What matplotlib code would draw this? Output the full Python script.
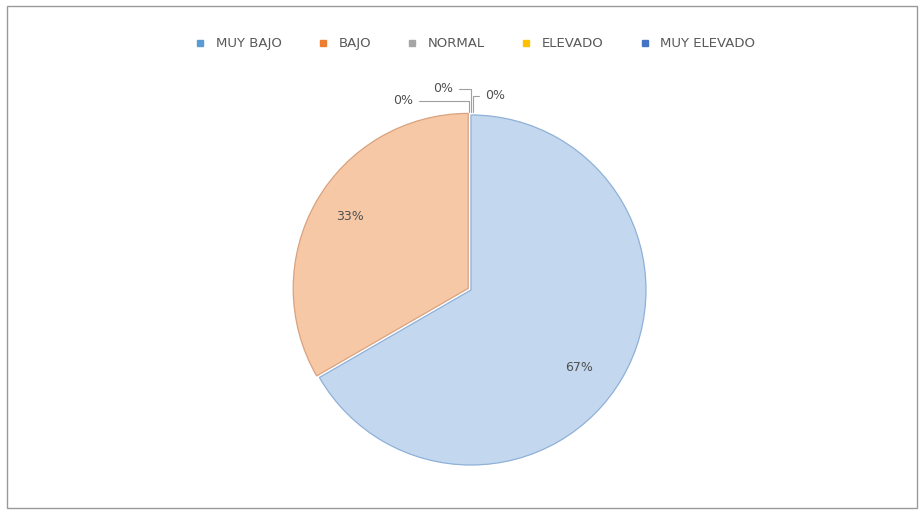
import numpy as np
import matplotlib.pyplot as plt
from matplotlib.patches import Rectangle
from matplotlib.lines import Line2D

# datos
categorias = ['MUY BAJO', 'BAJO', 'NORMAL', 'ELEVADO', 'MUY ELEVADO']
valores = [2, 1, 0, 0, 0]
etiquetas = ['67%', '33%', '0%', '0%', '0%']
colores_leyenda = ['#5b9bd5', '#ed7d31', '#a5a5a5', '#ffc000', '#4472c4']
colores_pie = ['#c3d8ef', '#f7c8a6']
bordes_pie = ['#8fb0d8', '#d9a27e']

fig = plt.figure(figsize=(9.24, 5.14), dpi=100)
fig.patch.set_facecolor('white')
fig.patches.append(Rectangle((0.008, 0.012), 0.984, 0.976, transform=fig.transFigure,
                             fill=False, edgecolor='#9a9a9a', linewidth=1))

ax = fig.add_axes([0.3203, 0.0953, 0.3788, 0.681])
w, _ = ax.pie(valores[:2], colors=colores_pie, startangle=90, counterclock=False,
              explode=[0, 0.018], radius=1, wedgeprops=dict(linewidth=0.9))
for wedge, b in zip(w, bordes_pie):
    wedge.set_edgecolor(b)
ax.set_xlim(-1, 1)
ax.set_ylim(-1, 1)
ax.set_aspect('equal')
ax.axis('off')

# etiquetas de porcentaje
ax.text(0.62, -0.44, etiquetas[0], fontsize=9, color='#505050', ha='center', va='center')
ax.text(-0.69, 0.42, etiquetas[1], fontsize=9, color='#505050', ha='center', va='center')

# etiquetas 0% con lineas guia
ax.annotate(etiquetas[2], xy=(-0.01, 1.0), xytext=(-0.33, 1.08), fontsize=9, color='#505050',
            ha='right', va='center',
            arrowprops=dict(arrowstyle='-', color='#a0a0a0', lw=0.8,
                            connectionstyle='angle,angleA=0,angleB=90,rad=0'))
ax.annotate(etiquetas[3], xy=(0.0, 1.0), xytext=(-0.16, 1.15), fontsize=9, color='#505050',
            ha='center', va='center',
            arrowprops=dict(arrowstyle='-', color='#a0a0a0', lw=0.8,
                            connectionstyle='angle,angleA=0,angleB=90,rad=0'))
ax.annotate(etiquetas[4], xy=(0.01, 1.0), xytext=(0.08, 1.11), fontsize=9, color='#505050',
            ha='left', va='center',
            arrowprops=dict(arrowstyle='-', color='#a0a0a0', lw=0.8,
                            connectionstyle='angle,angleA=0,angleB=90,rad=0'))

# leyenda
handles = [Line2D([0], [0], marker='s', linestyle='none', markersize=4,
                  markerfacecolor=c, markeredgecolor=c) for c in colores_leyenda]
leg = fig.legend(handles, categorias, loc='center', bbox_to_anchor=(0.51, 0.915), ncol=5,
                 frameon=False, fontsize=9.5, handletextpad=0.2, columnspacing=2.1)
for t in leg.get_texts():
    t.set_color('#595959')

fig.savefig('out.png', dpi=100)
